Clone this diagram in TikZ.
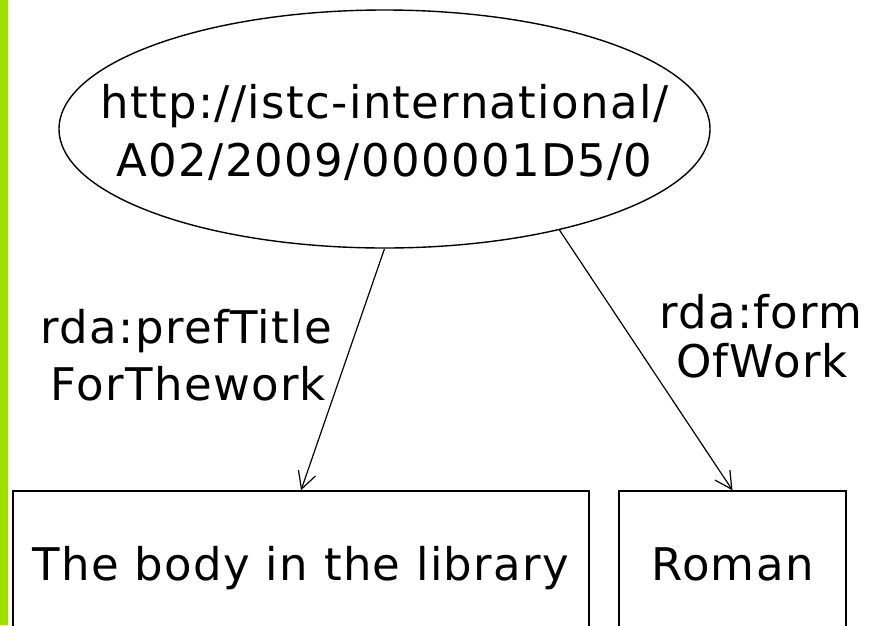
\documentclass[tikz,border=0pt]{standalone}
\usepackage{fontspec}
\setmainfont[LetterSpace=3]{DejaVu Sans}
\usetikzlibrary{shapes.geometric,arrows.meta}
\definecolor{barlime}{RGB}{158,224,0}
\begin{document}
\begin{tikzpicture}[x=1pt,y=-1pt,
  txt/.style={font=\fontsize{45}{54}\selectfont, inner sep=0, anchor=base},
  conn/.style={draw, line width=1.2pt, -{Straight Barb[length=17pt,width=18pt,line width=1.2pt]}},
  boxnode/.style={draw, line width=1.4pt, rectangle, inner sep=0, minimum height=153pt,
    text height=35pt, text depth=10pt, font=\fontsize{45}{54}\selectfont},
]
\useasboundingbox (0,0) rectangle (875,625);
\clip (0,0) rectangle (875,625);
\fill[barlime] (0,0) rectangle (7.5,625);
\node[ellipse, draw, line width=1.4pt, minimum width=651pt, minimum height=238pt, inner sep=0] (uri) at (384.5,129) {};
\node[txt] (urione) at (384.5,118) {http://istc-international/};
\node[txt] (uritwo) at (384.5,176) {A02/2009/000001D5/0};
\node[boxnode, minimum width=576pt] (lbox) at (301,567.5) {The body in the library};
\node[boxnode, minimum width=227pt] (rbox) at (732.5,567.5) {Roman};
\draw[conn] (uri.south) -- (lbox.north);
\draw[conn] (uri.-30.7) -- (rbox.north);
\node[txt] (lone) at (186.5,343) {rda:prefTitle};
\node[txt] (ltwo) at (188.5,400) {ForThework};
\node[txt] (rone) at (761,328) {rda:form};
\node[txt] (rtwo) at (762,377) {OfWork};
\end{tikzpicture}
\end{document}
